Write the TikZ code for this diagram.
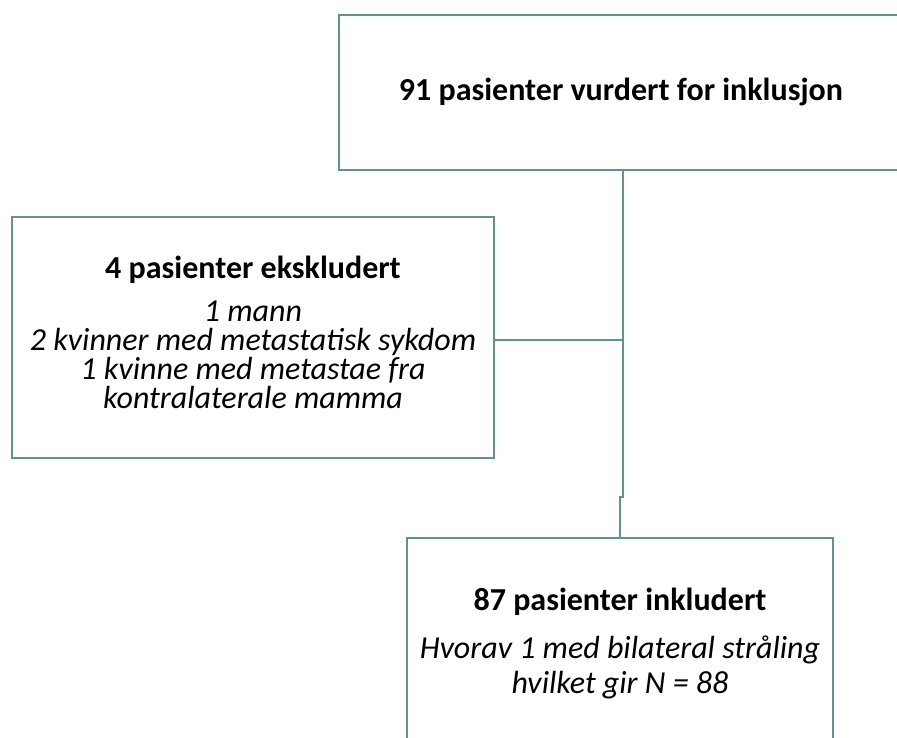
\documentclass[tikz,border=0pt]{standalone}
\usepackage{fontspec}
\setmainfont{Carlito}
\definecolor{linecol}{HTML}{649190}
\begin{document}
\begin{tikzpicture}[x=1pt,y=1pt,
  boxstyle/.style={draw=linecol, line width=2.8pt, rectangle, inner sep=0pt},
  conn/.style={draw=linecol, line width=2.8pt},
  headtext/.style={font=\fontsize{32}{38}\selectfont\bfseries, inner sep=0pt},
  bodytext/.style={font=\fontsize{32}{29}\selectfont\itshape, align=center, inner sep=0pt}]
\useasboundingbox (0,0) rectangle (897,-738);
\clip (0,0) rectangle (897,-738);
% boxes
\node[boxstyle, minimum width=570, minimum height=155] (top) at (624,-92.5) {};
\node[boxstyle, minimum width=482, minimum height=241] (left) at (253,-337.5) {};
\node[boxstyle, minimum width=426, minimum height=230] (bot) at (620,-653) {};
% texts
\node[headtext] (toptxt) at (621,-92) {91 pasienter vurdert for inklusjon};
\node[headtext] (lefthead) at (253,-270) {4 pasienter ekskludert};
\node[bodytext] (leftbody) at (253,-355) {1 mann\\2 kvinner med metastatisk sykdom\\1 kvinne med metastae fra\\kontralaterale mamma};
\node[headtext] (bothead) at (620,-602) {87 pasienter inkludert};
\node[bodytext, font=\fontsize{32}{35}\selectfont\itshape] (botbody) at (620,-667.5) {Hvorav 1 med bilateral stråling\\hvilket gir N = 88};
% connectors
\coordinate (mid) at (623,-340);
\coordinate (j1) at (623,-497);
\coordinate (j2) at (620,-497);
\draw[conn] (top.south -| mid) -- (mid) -- (j1) -- (j2) -- (j2 |- bot.north);
\draw[conn] (left.east |- mid) -- (mid);
\end{tikzpicture}
\end{document}
